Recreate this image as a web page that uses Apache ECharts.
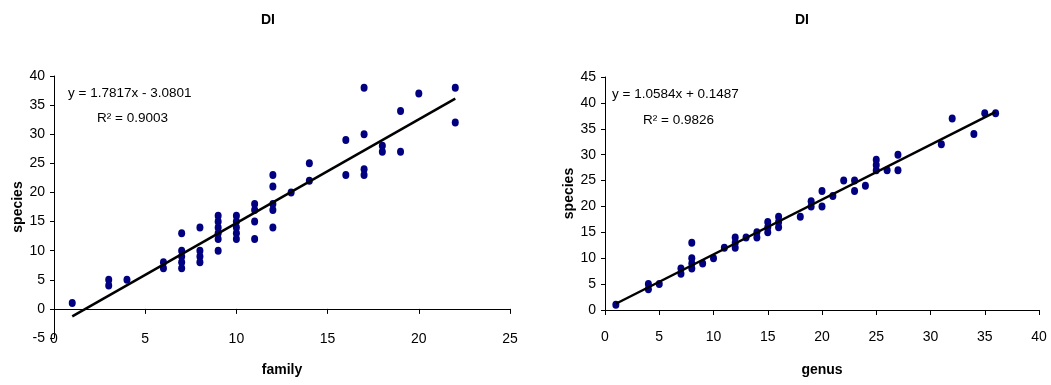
<!DOCTYPE html>
<html>
<head>
<meta charset="utf-8">
<script src="https://cdn.jsdelivr.net/npm/echarts@6/dist/echarts.min.js"></script>
<style>html,body{margin:0;padding:0;background:#fff;}#c{width:1051px;height:385px;}</style>
</head>
<body>
<div id="c"></div>
<script>
// ---- data ----
const titles = ['DI', 'DI'];
const leftFamily = [1,3,3,4,6,6,7,7,7,7,7,8,8,8,8,9,9,9,9,9,9,10,10,10,10,10,11,11,11,11,12,12,12,12,12,13,14,14,16,16,17,17,17,17,18,18,19,19,20,22,22];
const leftSpecies = [1,5,4,5,8,7,13,10,9,8,7,14,10,9,8,16,15,14,13,12,10,16,15,14,13,12,18,17,15,12,23,21,18,17,14,20,25,22,29,23,38,30,24,23,28,27,34,27,37,38,32];
const rightGenus = [1,4,4,5,7,7,8,8,8,8,9,10,11,12,12,12,13,14,14,15,15,15,16,16,16,18,19,19,20,20,21,22,23,23,24,25,25,25,26,27,27,31,32,34,35,36];
const rightSpecies = [1,5,4,5,8,7,13,10,9,8,9,10,12,14,13,12,14,15,14,17,16,15,18,17,16,18,21,20,23,20,22,25,25,23,24,29,28,27,27,30,27,32,37,34,38,38];
const leftTrend = {slope: 1.7817, intercept: -3.0801, r2: '0.9003', xFrom: 1, xTo: 22};
const rightTrend = {slope: 1.0584, intercept: 0.1487, r2: '0.9826', xFrom: 1, xTo: 36};
const leftEq = 'y = 1.7817x - 3.0801';
const rightEq = 'y = 1.0584x + 0.1487';
const xNames = ['family', 'genus'];
const yName = 'species';

const pairs = (xs, ys) => xs.map((x, i) => [x, ys[i]]);
const trendPts = t => [[t.xFrom, t.slope * t.xFrom + t.intercept], [t.xTo, t.slope * t.xTo + t.intercept]];

const FONT = "'Liberation Sans', Arial, sans-serif";
const lineStyle = {color: '#000', width: 1};
const tickLbl = {color: '#000', fontSize: 14, fontFamily: FONT};
const nameStyle = {color: '#000', fontSize: 14, fontWeight: 'bold', fontFamily: FONT};
const dotStyle = {color: '#000080', opacity: 1};

const chart = echarts.init(document.getElementById('c'), null, {renderer: 'canvas'});
chart.setOption({
  animation: false,
  backgroundColor: '#fff',
  title: [
    {text: titles[0], left: 263, top: 8, textAlign: 'center', textStyle: {fontSize: 14, fontWeight: 'bold', color: '#000', fontFamily: FONT}},
    {text: titles[1], left: 797, top: 8, textAlign: 'center', textStyle: {fontSize: 14, fontWeight: 'bold', color: '#000', fontFamily: FONT}}
  ],
  grid: [
    {left: 54, right: 541, top: 76, bottom: 47},
    {left: 605, right: 12, top: 77, bottom: 75}
  ],
  xAxis: [
    {gridIndex: 0, type: 'value', min: 0, max: 25, interval: 5,
     axisLine: {onZero: true, lineStyle}, axisTick: {show: true, length: 5, lineStyle},
     axisLabel: {show: false}, splitLine: {show: false}},
    {gridIndex: 0, type: 'value', min: 0, max: 25, interval: 5, position: 'bottom',
     axisLine: {show: false, onZero: false}, axisTick: {show: false},
     axisLabel: Object.assign({margin: -6}, tickLbl), splitLine: {show: false},
     name: xNames[0], nameLocation: 'middle', nameGap: 25, nameTextStyle: nameStyle},
    {gridIndex: 1, type: 'value', min: 0, max: 40, interval: 5,
     axisLine: {onZero: true, lineStyle}, axisTick: {show: true, length: 5, lineStyle},
     axisLabel: Object.assign({margin: 20}, tickLbl), splitLine: {show: false},
     name: xNames[1], nameLocation: 'middle', nameGap: 53, nameTextStyle: nameStyle}
  ],
  yAxis: [
    {gridIndex: 0, type: 'value', min: -5, max: 40, interval: 5,
     axisLine: {show: true, onZero: true, lineStyle}, axisTick: {show: true, length: 4, lineStyle},
     axisLabel: Object.assign({margin: 9}, tickLbl), splitLine: {show: false},
     name: yName, nameLocation: 'middle', nameGap: 29, nameTextStyle: nameStyle},
    {gridIndex: 1, type: 'value', min: 0, max: 45, interval: 5,
     axisLine: {show: true, onZero: true, lineStyle}, axisTick: {show: true, length: 4, lineStyle},
     axisLabel: Object.assign({margin: 9}, tickLbl), splitLine: {show: false},
     name: yName, nameLocation: 'middle', nameGap: 28, nameTextStyle: nameStyle}
  ],
  series: [
    {type: 'scatter', xAxisIndex: 0, yAxisIndex: 0, data: pairs(leftFamily, leftSpecies),
     symbol: 'circle', symbolSize: [7, 8], itemStyle: dotStyle, z: 3},
    {type: 'line', xAxisIndex: 0, yAxisIndex: 0, data: trendPts(leftTrend),
     showSymbol: false, symbol: 'none', lineStyle: {color: '#000', width: 2.5}, z: 4},
    {type: 'scatter', xAxisIndex: 2, yAxisIndex: 1, data: pairs(rightGenus, rightSpecies),
     symbol: 'circle', symbolSize: [7, 8], itemStyle: dotStyle, z: 3},
    {type: 'line', xAxisIndex: 2, yAxisIndex: 1, data: trendPts(rightTrend),
     showSymbol: false, symbol: 'none', lineStyle: {color: '#000', width: 2.5}, z: 4}
  ],
  graphic: [
    {type: 'text', left: 68, top: 86, style: {text: leftEq, fill: '#000', font: '13.5px ' + FONT}},
    {type: 'text', left: 97, top: 111, style: {text: 'R² = ' + leftTrend.r2, fill: '#000', font: '13.5px ' + FONT}},
    {type: 'text', left: 612, top: 87, style: {text: rightEq, fill: '#000', font: '13.5px ' + FONT}},
    {type: 'text', left: 643, top: 113, style: {text: 'R² = ' + rightTrend.r2, fill: '#000', font: '13.5px ' + FONT}}
  ]
});
</script>
</body>
</html>
